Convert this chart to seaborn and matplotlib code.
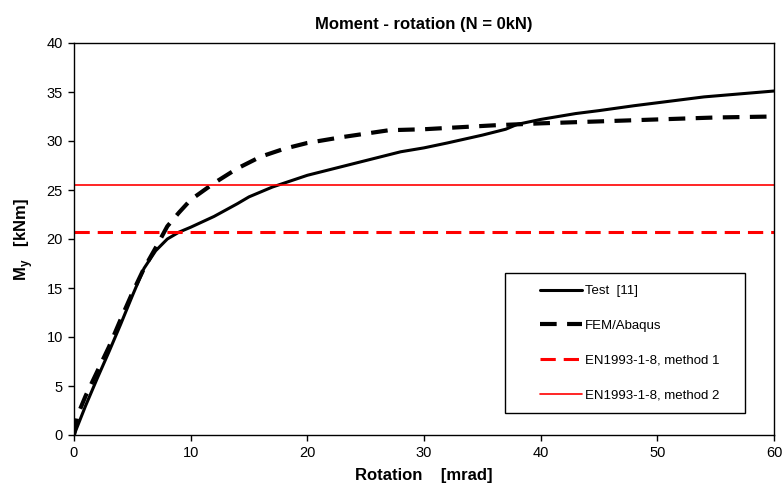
import matplotlib
matplotlib.use("Agg")
import matplotlib.pyplot as plt
from matplotlib.patches import Rectangle
import seaborn as sns
import pandas as pd

# Data
test_rot = [0, 1, 2, 3, 4, 5, 6, 7, 8, 9, 10, 12, 14, 15, 17, 20, 25, 28, 30, 32, 35, 37, 38, 40, 43, 45, 48, 50, 54, 57, 60]
test_m = [0, 3.0, 5.8, 8.5, 11.3, 14.2, 17.0, 18.8, 20.0, 20.7, 21.2, 22.3, 23.6, 24.3, 25.3, 26.5, 28.0, 28.9, 29.3, 29.8, 30.6, 31.2, 31.7, 32.2, 32.8, 33.1, 33.6, 33.9, 34.5, 34.8, 35.1]

fem_rot = [0, 0.3, 1, 2, 3, 4, 5, 6, 7, 8, 9, 10, 12, 14, 16, 18, 20, 23, 27, 30, 36, 40, 45, 50, 55, 60]
fem_m = [0, 2.0, 4.0, 6.5, 9.0, 11.8, 14.5, 17.0, 19.1, 21.3, 22.7, 24.0, 25.7, 27.2, 28.4, 29.2, 29.8, 30.4, 31.1, 31.2, 31.6, 31.8, 32.0, 32.2, 32.4, 32.5]

method1_m = 20.7
method2_m = 25.5

x_ticks = [0, 10, 20, 30, 40, 50, 60]
y_ticks = [0, 5, 10, 15, 20, 25, 30, 35, 40]

sns.set_style("white")
plt.rcParams['font.family'] = ['Liberation Sans', 'DejaVu Sans']
plt.rcParams['mathtext.fontset'] = 'custom'
plt.rcParams['mathtext.rm'] = 'Liberation Sans'
plt.rcParams['mathtext.bf'] = 'Liberation Sans:bold'
for k in ['text.color', 'axes.labelcolor', 'xtick.color', 'ytick.color', 'axes.edgecolor']:
    plt.rcParams[k] = 'black'

fig = plt.figure(figsize=(7.82, 4.92), dpi=100)
ax = fig.add_axes([74/782, 1 - 435/492, 700/782, 392/492])

df_test = pd.DataFrame({"rot": test_rot, "m": test_m})
df_fem = pd.DataFrame({"rot": fem_rot, "m": fem_m})

sns.lineplot(data=df_test, x="rot", y="m", ax=ax, color="black", linewidth=2.2,
             label="Test  [11]", estimator=None, sort=False)
sns.lineplot(data=df_fem, x="rot", y="m", ax=ax, color="black", linewidth=3.0,
             label="FEM/Abaqus", estimator=None, sort=False)
ax.lines[-1].set_dashes([4, 2.5])
ax.axhline(method1_m, color="#ff0000", linewidth=2.2, dashes=(5, 2.6),
           label="EN1993-1-8, method 1")
ax.axhline(method2_m, color="#ff0000", linewidth=1.2, label="EN1993-1-8, method 2")

ax.set_xlim(0, 60)
ax.set_ylim(0, 40)
ax.set_xticks(x_ticks)
ax.set_yticks(y_ticks)
ax.tick_params(axis="both", direction="out", length=4, width=1, color="black",
               labelsize=10.5, left=True, bottom=True, pad=4)
for s in ax.spines.values():
    s.set_color("black")
    s.set_linewidth(1.0)

ax.set_title("Moment - rotation (N = 0kN)", fontsize=12, fontweight="bold", pad=10)
ax.set_xlabel("Rotation    [mrad]", fontsize=12, fontweight="bold", labelpad=6)
ax.set_ylabel(r"M$_\mathbf{y}$   [kNm]", fontsize=12, fontweight="bold", labelpad=8)

# legend frame (box) drawn separately to match reference proportions
box_x0, box_y0 = (505 - 74) / 700, (435 - 413) / 392
box_w, box_h = (745 - 505) / 700, (413 - 273) / 392
ax.add_patch(Rectangle((box_x0, box_y0), box_w, box_h, transform=ax.transAxes,
                       facecolor="white", edgecolor="black", linewidth=1.0, zorder=4))

leg = ax.legend(loc="upper left", bbox_to_anchor=((540 - 74) / 700, (435 - 285) / 392),
                fontsize=9.5, frameon=False, handlelength=3.2, labelspacing=1.7,
                borderpad=0, handletextpad=0.2, borderaxespad=0)
leg.set_zorder(5)

fig.savefig("out.png", dpi=100)
